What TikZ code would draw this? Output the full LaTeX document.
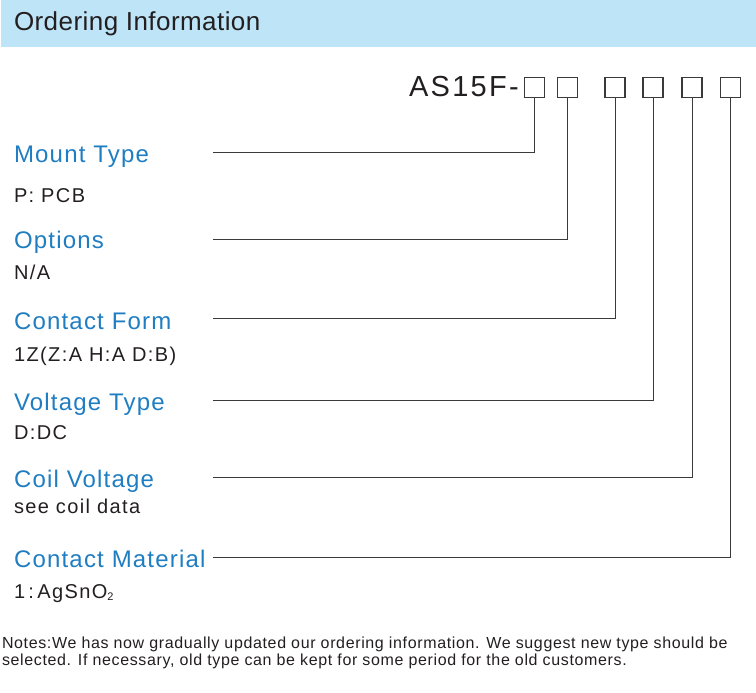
\documentclass[tikz,border=0pt]{standalone}
\usepackage{fontspec}
\setmainfont{Liberation Sans}
\newfontfamily\titlefont[LetterSpace=1.7]{Liberation Sans}
\newfontfamily\modelfont[LetterSpace=8]{Liberation Sans}
\newfontfamily\labfont[LetterSpace=5]{Liberation Sans}
\newfontfamily\subfont[LetterSpace=7]{Liberation Sans}
\newfontfamily\notefont[LetterSpace=4]{Liberation Sans}
\definecolor{band}{HTML}{BEE4F8}
\definecolor{labblue}{HTML}{1F7DC1}
\definecolor{ink}{HTML}{231F20}
\definecolor{linegray}{HTML}{3A3A3A}
\tikzset{
  txt/.style={anchor=base west, inner sep=0pt, outer sep=0pt},
  title/.style={txt, text=ink, font=\titlefont\fontsize{26}{30}\selectfont},
  model/.style={txt, text=ink, font=\modelfont\fontsize{29}{33}\selectfont},
  lab/.style={txt, text=labblue, font=\labfont\fontsize{24}{28}\selectfont},
  sub/.style={txt, text=ink, font=\subfont\fontsize{20}{23}\selectfont},
  note/.style={txt, text=ink, font=\notefont\fontsize{16}{18}\selectfont},
  codebox/.style={draw=linegray, line width=1.1pt, minimum width=20pt, minimum height=20pt, inner sep=0pt, outer sep=0pt},
  lead/.style={draw=linegray, line width=1pt},
}
\begin{document}
\begin{tikzpicture}[x=1pt,y=-1pt]
\useasboundingbox (0,0) rectangle (756,693);
\fill[band] (1,0) rectangle (756,47);
\node[title] (ttl) at (14,31) {Ordering Information};
\node[model] (mdl) at (409,96) {AS15F-};
\node[codebox] (b1) at (534.5,87.5) {};
\node[codebox] (b2) at (567.5,87.5) {};
\node[codebox] (b3) at (615,87.5) {};
\node[codebox] (b4) at (653,87.5) {};
\node[codebox] (b5) at (692,87.5) {};
\node[codebox] (b6) at (730.5,87.5) {};
\node[lab] (l1) at (14,162) {Mount Type};
\node[sub] (s1) at (14,202) {P: PCB};
\node[lab] (l2) at (14,248) {Options};
\node[sub] (s2) at (14,279) {N/A};
\node[lab] (l3) at (14,329) {Contact Form};
\node[sub] (s3) at (14,361) {1Z(Z:A H:A D:B)};
\node[lab] (l4) at (14,410) {Voltage Type};
\node[sub] (s4) at (14,439) {D:DC};
\node[lab] (l5) at (14,487) {Coil Voltage};
\node[sub] (s5) at (14,513) {see coil data};
\node[lab] (l6) at (14,567) {Contact Material};
\node[sub] (s6) at (14,598) {1\,:\,AgSnO\raisebox{-2.5pt}{\fontsize{11}{12}\selectfont 2}};
\coordinate (e1) at (213,152);
\coordinate (e2) at (213,239);
\coordinate (e3) at (213,318);
\coordinate (e4) at (213,400);
\coordinate (e5) at (213,477);
\coordinate (e6) at (213,557);
\draw[lead] (b1.south) |- (e1);
\draw[lead] (b2.south) |- (e2);
\draw[lead] (b3.south) |- (e3);
\draw[lead] (b4.south) |- (e4);
\draw[lead] (b5.south) |- (e5);
\draw[lead] (b6.south) |- (e6);
\node[note] (n1) at (2,648) {Notes:We has now gradually updated our ordering information. We suggest new type should be};
\node[note] (n2) at (2,665) {selected. If necessary, old type can be kept for some period for the old customers.};
\end{tikzpicture}
\end{document}
